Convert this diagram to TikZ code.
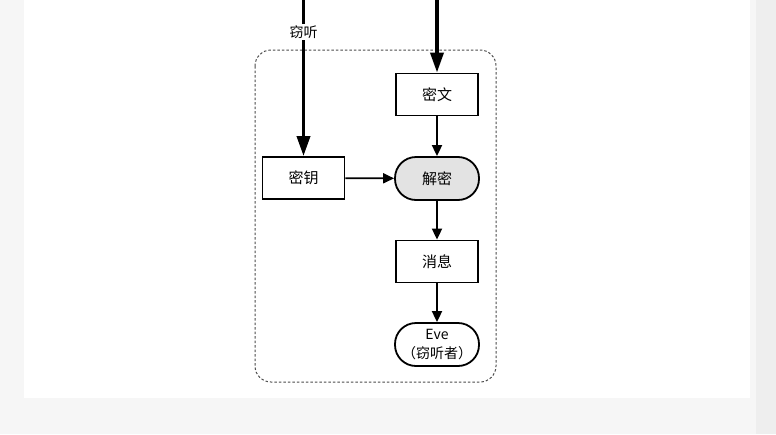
\documentclass[tikz,border=0pt]{standalone}
\usepackage{fontspec}
\setmainfont{Noto Sans CJK SC}
\usetikzlibrary{arrows.meta, positioning}

\tikzset{
  box/.style={draw, line width=1.8pt, minimum width=82pt, minimum height=42pt,
    inner sep=2pt, font=\fontsize{15}{17}\selectfont},
  pill/.style={draw, rounded corners=21pt, line width=1.8pt, minimum width=84pt,
    minimum height=43pt, inner sep=0pt, align=center, font=\fontsize{15}{17}\selectfont},
  flow/.style={-{Triangle[length=11pt,width=10pt]}, line width=1.8pt},
  tapline/.style={-{Triangle[length=20pt,width=13pt]}, line width=3.6pt},
}

\begin{document}
\begin{tikzpicture}[x=1pt, y=-1pt]
    \useasboundingbox (0,0) rectangle (776,434);
    \fill[gray!7] (0,0) rectangle (776,434);
    \fill[gray!13] (756,0) rectangle (776,434);
    \fill[white] (24,0) rectangle (750,398);

    % eavesdropper's area
    \draw[gray!60!black, line width=1pt, dash pattern=on 2.5pt off 2pt, rounded corners=16pt]
      (255,50) rectangle (496,382);

    \node[box] (cipher) at (437,94.5) {密文};
    \node[box] (key) at (303.5,178) {密钥};
    \node[pill, fill=gray!22] (decrypt) at (437,178.5) {解密};
    \node[box] (msg) at (437,261.5) {消息};
    \node[pill, font=\fontsize{14}{19}\selectfont] (eve) at (437,344.5) {Eve\\（窃听者）};

    \coordinate (tapKey) at (303.5,0);
    \coordinate (tapCipher) at (437,0);

    \draw[tapline] (tapKey) -- (key);
    \draw[tapline] (tapCipher) -- (cipher);
    \node[fill=white, inner sep=1.5pt, font=\fontsize{14}{16}\selectfont] (tapLabel) at (303.5,32) {窃听};

    \draw[flow] (cipher) -- (decrypt);
    \draw[flow] (key) -- (decrypt);
    \draw[flow] (decrypt) -- (msg);
    \draw[flow] (msg) -- (eve);
  \end{tikzpicture}
\end{document}
